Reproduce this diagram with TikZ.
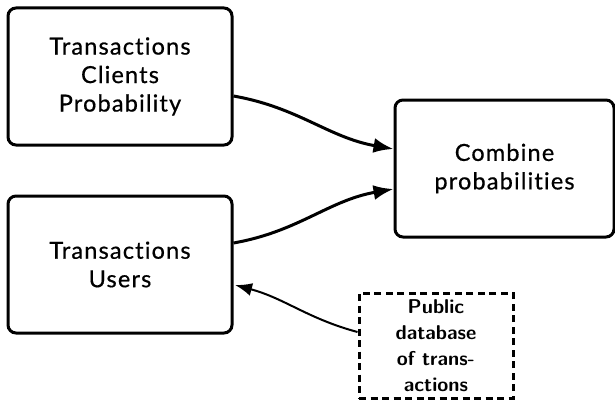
\documentclass[tikz,border=0pt]{standalone}
\usepackage{fontspec}
\setmainfont{Lato}[Ligatures={NoCommon,NoContextual}, LetterSpace=5, FakeBold=0.6]
\usetikzlibrary{arrows.meta}
\begin{document}
\begin{tikzpicture}[x=1pt,y=1pt,
  box/.style={draw, line width=3pt, rounded corners=8pt, align=center,
    font=\fontsize{23.5}{28.5}\selectfont, inner sep=0pt},
  srcbox/.style={draw, line width=3pt, dash pattern=on 7pt off 4.5pt, align=center,
    font=\sffamily\bfseries\fontsize{20}{26}\selectfont, inner sep=0pt,
    minimum width=154pt, minimum height=105pt},
  flow/.style={line width=3pt, -{Latex[length=20pt,width=15pt]}},
  feed/.style={line width=2pt, -{Latex[length=17pt,width=13pt]}}]
\useasboundingbox (0,0) rectangle (615,400);

\node[box, minimum width=224pt, minimum height=137pt] (clients) at (120,323.5)
  {Transactions\\Clients\\Probability};
\node[box, minimum width=224pt, minimum height=137pt] (users) at (120,135.5)
  {Transactions\\Users};
\node[box, minimum width=219pt, minimum height=137pt] (combine) at (504.5,231.5)
  {Combine\\probabilities};
\node[srcbox] (public) at (436,54.5)
  {Public\\database\\of trans-\\actions};

\draw[flow] ([yshift=-19.5pt]clients.east) to[out=-10,in=170] ([yshift=19.5pt]combine.west);
\draw[flow] ([yshift=21.5pt]users.east) to[out=10,in=190] ([yshift=-20.5pt]combine.west);
\draw[feed] ([yshift=13.5pt]public.west) to[out=165,in=-15] ([yshift=-20.5pt,xshift=1.5pt]users.east);
\end{tikzpicture}
\end{document}
